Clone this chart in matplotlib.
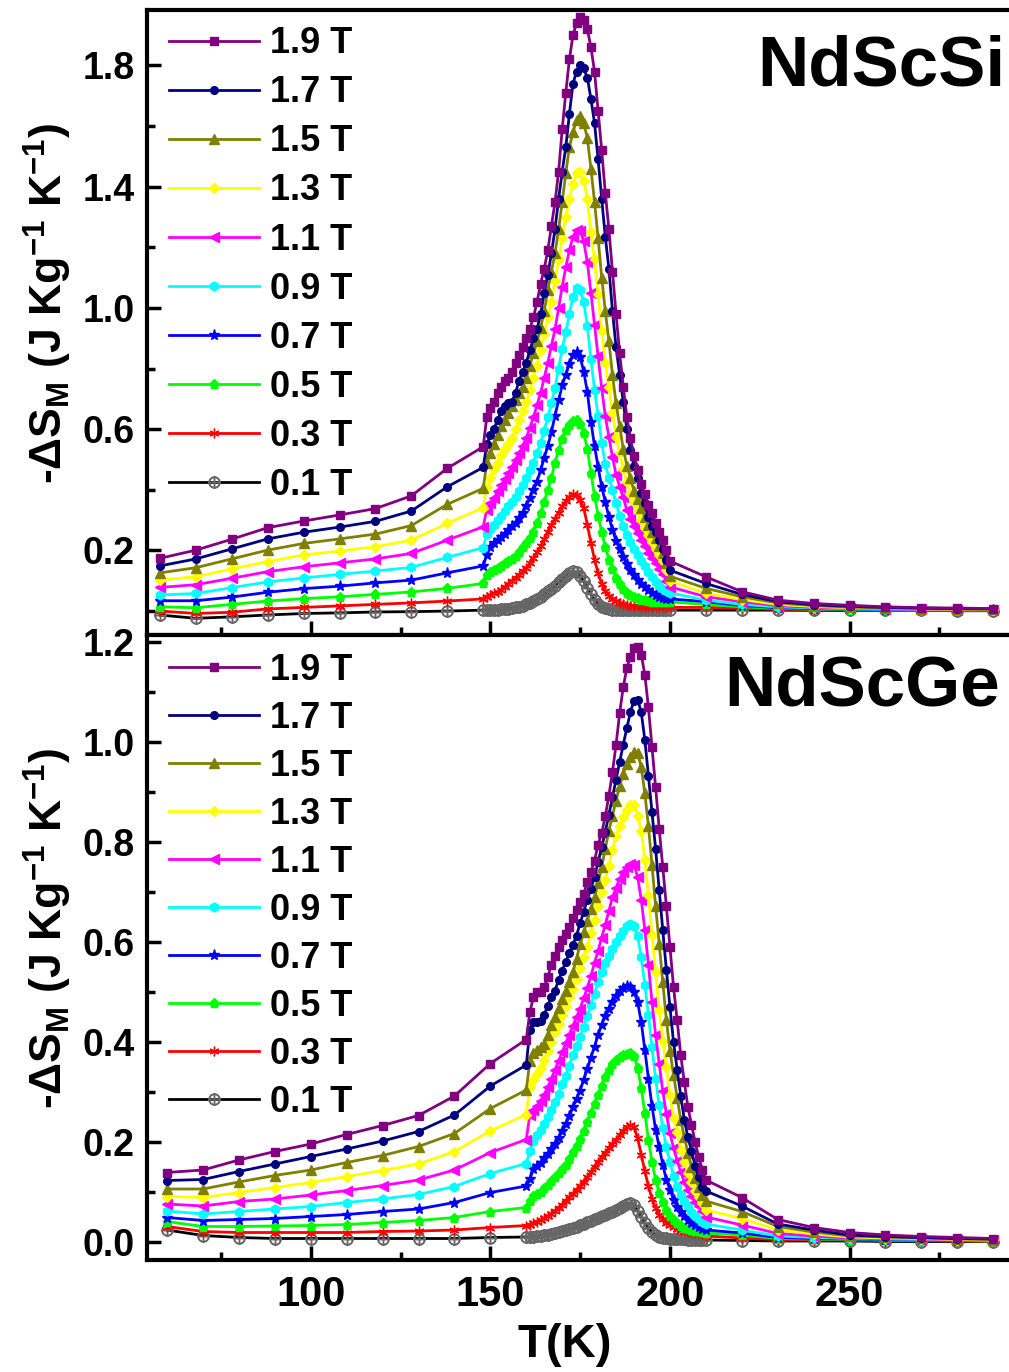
import matplotlib
matplotlib.use("Agg")
import matplotlib.pyplot as plt
from matplotlib.ticker import FixedLocator, FormatStrFormatter, MultipleLocator

plt.rcParams["font.family"] = ["Liberation Sans", "DejaVu Sans"]
plt.rcParams["font.weight"] = "bold"
plt.rcParams["mathtext.fontset"] = "custom"
plt.rcParams["mathtext.rm"] = "Liberation Sans:bold"
plt.rcParams["mathtext.bf"] = "Liberation Sans:bold"
plt.rcParams["mathtext.it"] = "Liberation Sans:bold"
plt.rcParams["mathtext.default"] = "bf"

# temperature grids: 10 K steps, 1 K steps around the transition, 10 K steps above
t_si = list(range(58, 149, 10)) + list(range(149, 201)) + list(range(210, 291, 10))
t_ge = list(range(60, 161, 10)) + list(range(161, 210)) + list(range(210, 291, 10))

fields = ["1.9 T", "1.7 T", "1.5 T", "1.3 T", "1.1 T", "0.9 T", "0.7 T", "0.5 T", "0.3 T", "0.1 T"]

# ---- NdScSi, -dS_M ----
si_19 = [0.174, 0.201, 0.237, 0.275, 0.297, 0.317, 0.338, 0.380, 0.471, 0.542,
         0.64, 0.67, 0.69, 0.72, 0.74, 0.76, 0.77, 0.79, 0.82, 0.845,
         0.87, 0.90, 0.93, 0.97, 1.02, 1.08, 1.13, 1.19, 1.27, 1.35,
         1.45, 1.59, 1.71, 1.82, 1.90, 1.94, 1.96, 1.95, 1.92, 1.86,
         1.78, 1.65, 1.52, 1.38, 1.26, 1.12, 0.98, 0.85, 0.74, 0.64,
         0.57, 0.51, 0.465, 0.42, 0.385, 0.35, 0.325, 0.29, 0.26, 0.235,
         0.20, 0.165,
         0.113, 0.064, 0.036, 0.025, 0.019, 0.014, 0.011, 0.010, 0.008]
si_17 = [0.149, 0.172, 0.205, 0.238, 0.260, 0.277, 0.296, 0.330, 0.410, 0.474,
         0.55, 0.58, 0.60, 0.63, 0.66, 0.675, 0.685, 0.69, 0.72, 0.76,
         0.79, 0.82, 0.86, 0.90, 0.93, 0.98, 1.05, 1.11, 1.18, 1.26,
         1.36, 1.45, 1.53, 1.64, 1.74, 1.78, 1.80, 1.79, 1.76, 1.69,
         1.61, 1.49, 1.36, 1.235, 1.13, 0.99, 0.87, 0.78, 0.69, 0.60,
         0.53, 0.48, 0.44, 0.39, 0.355, 0.31, 0.28, 0.26, 0.235, 0.205,
         0.17, 0.135,
         0.091, 0.055, 0.031, 0.021, 0.016, 0.012, 0.010, 0.008, 0.007]
si_15 = [0.126, 0.143, 0.172, 0.201, 0.223, 0.238, 0.254, 0.282, 0.352, 0.405,
         0.488, 0.52, 0.55, 0.58, 0.61, 0.63, 0.655, 0.675, 0.695, 0.72,
         0.74, 0.77, 0.81, 0.85, 0.89, 0.935, 0.99, 1.06, 1.12, 1.18,
         1.26, 1.35, 1.445, 1.53, 1.58, 1.62, 1.633, 1.61, 1.56, 1.46,
         1.35, 1.23, 1.10, 0.99, 0.89, 0.78, 0.685, 0.61, 0.535, 0.48,
         0.44, 0.395, 0.37, 0.34, 0.31, 0.285, 0.262, 0.24, 0.215, 0.19,
         0.16, 0.115,
         0.075, 0.047, 0.027, 0.018, 0.013, 0.010, 0.008, 0.007, 0.006]
si_13 = [0.102, 0.113, 0.139, 0.163, 0.185, 0.198, 0.212, 0.234, 0.289, 0.341,
         0.41, 0.44, 0.468, 0.49, 0.515, 0.535, 0.55, 0.57, 0.60, 0.63,
         0.66, 0.69, 0.73, 0.77, 0.81, 0.86, 0.915, 0.97, 1.02, 1.09,
         1.16, 1.23, 1.30, 1.36, 1.41, 1.445, 1.45, 1.42, 1.36, 1.25,
         1.16, 1.045, 0.925, 0.82, 0.74, 0.655, 0.575, 0.52, 0.47, 0.425,
         0.386, 0.36, 0.33, 0.30, 0.273, 0.25, 0.227, 0.205, 0.185, 0.165,
         0.135, 0.10,
         0.058, 0.038, 0.022, 0.015, 0.011, 0.009, 0.007, 0.006, 0.005]
si_11 = [0.078, 0.087, 0.108, 0.130, 0.146, 0.159, 0.172, 0.190, 0.234, 0.278,
         0.335, 0.355, 0.373, 0.395, 0.415, 0.435, 0.455, 0.475, 0.50, 0.52,
         0.545, 0.572, 0.605, 0.64, 0.68, 0.72, 0.77, 0.82, 0.875, 0.93,
         1.00, 1.07, 1.135, 1.19, 1.235, 1.257, 1.255, 1.22, 1.15, 1.05,
         0.945, 0.84, 0.735, 0.643, 0.575, 0.508, 0.45, 0.41, 0.375, 0.333,
         0.305, 0.279, 0.256, 0.234, 0.213, 0.193, 0.175, 0.158, 0.14, 0.122,
         0.10, 0.08,
         0.047, 0.031, 0.018, 0.012, 0.009, 0.007, 0.006, 0.005, 0.004]
si_09 = [0.053, 0.058, 0.077, 0.096, 0.109, 0.121, 0.132, 0.144, 0.177, 0.209,
         0.255, 0.272, 0.285, 0.30, 0.315, 0.33, 0.345, 0.36, 0.377, 0.395,
         0.415, 0.44, 0.465, 0.49, 0.52, 0.555, 0.595, 0.64, 0.685, 0.735,
         0.80, 0.865, 0.92, 0.98, 1.035, 1.067, 1.06, 1.02, 0.94, 0.83,
         0.73, 0.645, 0.555, 0.485, 0.44, 0.40, 0.355, 0.315, 0.28, 0.25,
         0.228, 0.205, 0.185, 0.165, 0.148, 0.13, 0.112, 0.097, 0.082, 0.074,
         0.067, 0.06,
         0.036, 0.022, 0.014, 0.010, 0.007, 0.006, 0.005, 0.004, 0.004]
si_07 = [0.034, 0.034, 0.046, 0.062, 0.074, 0.082, 0.093, 0.102, 0.126, 0.149,
         0.185, 0.21, 0.225, 0.235, 0.243, 0.255, 0.267, 0.279, 0.292, 0.307,
         0.323, 0.348, 0.373, 0.40, 0.427, 0.465, 0.505, 0.545, 0.59, 0.645,
         0.695, 0.745, 0.78, 0.815, 0.845, 0.855, 0.838, 0.79, 0.723, 0.625,
         0.545, 0.475, 0.41, 0.36, 0.31, 0.268, 0.232, 0.205, 0.178, 0.155,
         0.135, 0.118, 0.103, 0.09, 0.078, 0.068, 0.06, 0.052, 0.045, 0.042,
         0.04, 0.04,
         0.031, 0.018, 0.011, 0.008, 0.006, 0.005, 0.004, 0.003, 0.003]
si_05 = [0.014, 0.011, 0.022, 0.033, 0.041, 0.047, 0.055, 0.063, 0.075, 0.091,
         0.12, 0.13, 0.137, 0.143, 0.15, 0.157, 0.164, 0.172, 0.182, 0.195,
         0.21, 0.225, 0.242, 0.262, 0.29, 0.322, 0.36, 0.40, 0.44, 0.49,
         0.53, 0.568, 0.598, 0.615, 0.626, 0.629, 0.616, 0.588, 0.535, 0.455,
         0.38, 0.315, 0.26, 0.211, 0.17, 0.138, 0.108, 0.088, 0.072, 0.06,
         0.052, 0.046, 0.042, 0.038, 0.035, 0.033, 0.031, 0.03, 0.03, 0.03,
         0.03, 0.03,
         0.022, 0.014, 0.009, 0.006, 0.005, 0.004, 0.003, 0.003, 0.002]
si_03 = [0.000, -0.008, -0.004, 0.007, 0.012, 0.017, 0.022, 0.027, 0.033, 0.040,
         0.048, 0.053, 0.058, 0.063, 0.07, 0.079, 0.089, 0.099, 0.11, 0.12,
         0.131, 0.143, 0.157, 0.175, 0.195, 0.213, 0.237, 0.262, 0.285, 0.305,
         0.325, 0.345, 0.362, 0.377, 0.385, 0.384, 0.366, 0.34, 0.285, 0.225,
         0.17, 0.125, 0.09, 0.065, 0.05, 0.04, 0.032, 0.027, 0.023, 0.02,
         0.018, 0.017, 0.016, 0.015, 0.015, 0.014, 0.014, 0.013, 0.013, 0.013,
         0.012, 0.012,
         0.012, 0.009, 0.006, 0.005, 0.004, 0.003, 0.003, 0.002, 0.002]
si_01 = [-0.013, -0.024, -0.019, -0.013, -0.008, -0.006, -0.003, -0.002, 0.000, 0.003,
         0.004, 0.004, 0.005, 0.005, 0.006, 0.007, 0.008, 0.01, 0.012, 0.015,
         0.018, 0.022, 0.027, 0.033, 0.04, 0.048, 0.056, 0.065, 0.074, 0.084,
         0.095, 0.106, 0.117, 0.126, 0.131, 0.128, 0.117, 0.098, 0.077, 0.055,
         0.037, 0.024, 0.015, 0.01, 0.007, 0.005, 0.004, 0.004, 0.004, 0.004,
         0.004, 0.004, 0.004, 0.004, 0.003, 0.003, 0.003, 0.003, 0.003, 0.003,
         0.003, 0.003,
         0.003, 0.003, 0.003, 0.002, 0.002, 0.002, 0.002, 0.001, 0.001]

# ---- NdScGe, -dS_M ----
ge_19 = [0.139, 0.144, 0.164, 0.181, 0.196, 0.215, 0.233, 0.253, 0.292, 0.357, 0.405,
         0.46, 0.49, 0.50, 0.50, 0.51, 0.53, 0.555, 0.573, 0.59, 0.605,
         0.617, 0.631, 0.648, 0.664, 0.68, 0.696, 0.72, 0.74, 0.763, 0.795,
         0.818, 0.852, 0.893, 0.94, 0.995, 1.058, 1.11, 1.148, 1.171, 1.188,
         1.19, 1.175, 1.135, 1.07, 0.99, 0.91, 0.827, 0.75, 0.672, 0.59,
         0.51, 0.444, 0.374, 0.32, 0.27, 0.235, 0.20, 0.17, 0.145,
         0.124, 0.089, 0.045, 0.029, 0.019, 0.014, 0.011, 0.009, 0.007]
ge_17 = [0.123, 0.125, 0.141, 0.156, 0.171, 0.186, 0.202, 0.221, 0.254, 0.312, 0.354,
         0.425, 0.44, 0.44, 0.442, 0.455, 0.473, 0.49, 0.503, 0.524, 0.543,
         0.56, 0.578, 0.595, 0.613, 0.638, 0.661, 0.685, 0.707, 0.731, 0.76,
         0.79, 0.82, 0.855, 0.89, 0.925, 0.96, 0.995, 1.028, 1.06, 1.083,
         1.085, 1.06, 1.005, 0.933, 0.86, 0.787, 0.705, 0.624, 0.545, 0.47,
         0.40, 0.345, 0.293, 0.245, 0.21, 0.182, 0.153, 0.13, 0.11,
         0.102, 0.072, 0.036, 0.024, 0.014, 0.011, 0.009, 0.007, 0.006]
ge_15 = [0.106, 0.106, 0.120, 0.133, 0.144, 0.159, 0.173, 0.191, 0.217, 0.267, 0.304,
         0.362, 0.379, 0.384, 0.39, 0.397, 0.415, 0.434, 0.45, 0.468, 0.486,
         0.503, 0.52, 0.54, 0.567, 0.596, 0.62, 0.643, 0.666, 0.69, 0.718,
         0.75, 0.787, 0.822, 0.853, 0.883, 0.912, 0.937, 0.957, 0.971, 0.98,
         0.978, 0.95, 0.898, 0.832, 0.755, 0.672, 0.597, 0.52, 0.444, 0.383,
         0.334, 0.289, 0.245, 0.21, 0.178, 0.151, 0.128, 0.11, 0.095,
         0.082, 0.061, 0.031, 0.020, 0.012, 0.010, 0.008, 0.006, 0.005]
ge_13 = [0.091, 0.089, 0.099, 0.109, 0.119, 0.131, 0.143, 0.156, 0.181, 0.222, 0.255,
         0.31, 0.324, 0.336, 0.348, 0.365, 0.383, 0.401, 0.42, 0.436, 0.454,
         0.472, 0.49, 0.507, 0.527, 0.548, 0.57, 0.591, 0.618, 0.645, 0.673,
         0.70, 0.725, 0.753, 0.785, 0.812, 0.833, 0.85, 0.864, 0.875, 0.874,
         0.853, 0.823, 0.765, 0.695, 0.615, 0.54, 0.465, 0.403, 0.35, 0.295,
         0.248, 0.22, 0.185, 0.16, 0.138, 0.12, 0.103, 0.09, 0.078,
         0.064, 0.047, 0.024, 0.016, 0.010, 0.008, 0.007, 0.005, 0.004]
ge_11 = [0.076, 0.072, 0.081, 0.086, 0.094, 0.103, 0.113, 0.124, 0.144, 0.179, 0.205,
         0.255, 0.264, 0.273, 0.282, 0.295, 0.31, 0.327, 0.345, 0.362, 0.38,
         0.398, 0.415, 0.433, 0.45, 0.467, 0.488, 0.509, 0.532, 0.558, 0.583,
         0.609, 0.635, 0.662, 0.69, 0.708, 0.727, 0.74, 0.75, 0.757, 0.755,
         0.73, 0.685, 0.625, 0.555, 0.48, 0.415, 0.357, 0.302, 0.256, 0.218,
         0.188, 0.163, 0.14, 0.12, 0.104, 0.092, 0.081, 0.072, 0.062,
         0.050, 0.034, 0.017, 0.012, 0.008, 0.007, 0.006, 0.004, 0.004]
ge_09 = [0.062, 0.056, 0.061, 0.066, 0.071, 0.079, 0.086, 0.095, 0.111, 0.137, 0.157,
         0.183, 0.203, 0.214, 0.225, 0.237, 0.25, 0.264, 0.28, 0.297, 0.316,
         0.333, 0.353, 0.375, 0.393, 0.41, 0.431, 0.452, 0.475, 0.497, 0.52,
         0.541, 0.558, 0.572, 0.587, 0.60, 0.613, 0.623, 0.632, 0.636, 0.632,
         0.612, 0.57, 0.515, 0.455, 0.39, 0.327, 0.274, 0.228, 0.19, 0.16,
         0.133, 0.11, 0.095, 0.083, 0.072, 0.061, 0.053, 0.047, 0.041,
         0.036, 0.024, 0.012, 0.009, 0.007, 0.006, 0.005, 0.004, 0.003]
ge_07 = [0.049, 0.043, 0.045, 0.047, 0.051, 0.055, 0.061, 0.066, 0.079, 0.099, 0.112,
         0.126, 0.146, 0.152, 0.159, 0.168, 0.177, 0.186, 0.197, 0.209, 0.223,
         0.236, 0.252, 0.27, 0.287, 0.303, 0.325, 0.346, 0.369, 0.391, 0.414,
         0.435, 0.452, 0.467, 0.481, 0.492, 0.503, 0.509, 0.513, 0.511, 0.50,
         0.48, 0.44, 0.385, 0.327, 0.272, 0.225, 0.19, 0.155, 0.124, 0.105,
         0.085, 0.071, 0.06, 0.052, 0.045, 0.039, 0.034, 0.03, 0.026,
         0.024, 0.018, 0.009, 0.007, 0.006, 0.005, 0.004, 0.003, 0.003]
ge_05 = [0.041, 0.031, 0.031, 0.032, 0.033, 0.035, 0.039, 0.043, 0.049, 0.061, 0.069,
         0.082, 0.093, 0.097, 0.101, 0.108, 0.115, 0.122, 0.13, 0.138, 0.147,
         0.155, 0.167, 0.18, 0.193, 0.206, 0.222, 0.24, 0.258, 0.277, 0.295,
         0.313, 0.33, 0.345, 0.356, 0.364, 0.37, 0.374, 0.377, 0.378, 0.372,
         0.348, 0.308, 0.258, 0.205, 0.16, 0.125, 0.098, 0.08, 0.064, 0.053,
         0.045, 0.038, 0.032, 0.029, 0.027, 0.025, 0.023, 0.022, 0.021,
         0.018, 0.014, 0.007, 0.006, 0.005, 0.004, 0.003, 0.003, 0.002]
ge_03 = [0.031, 0.021, 0.019, 0.019, 0.019, 0.019, 0.021, 0.022, 0.024, 0.029, 0.033,
         0.035, 0.038, 0.041, 0.044, 0.048, 0.052, 0.057, 0.062, 0.068, 0.075,
         0.083, 0.09, 0.097, 0.105, 0.112, 0.121, 0.13, 0.14, 0.151, 0.161,
         0.17, 0.179, 0.188, 0.197, 0.205, 0.214, 0.223, 0.23, 0.234, 0.23,
         0.208, 0.175, 0.142, 0.112, 0.087, 0.068, 0.055, 0.046, 0.039, 0.034,
         0.03, 0.027, 0.024, 0.022, 0.021, 0.02, 0.019, 0.018, 0.017,
         0.012, 0.008, 0.005, 0.004, 0.004, 0.003, 0.003, 0.002, 0.002]
ge_01 = [0.024, 0.013, 0.009, 0.007, 0.007, 0.007, 0.007, 0.007, 0.007, 0.009, 0.010,
         0.01, 0.011, 0.012, 0.013, 0.014, 0.015, 0.017, 0.018, 0.02, 0.022,
         0.024, 0.026, 0.028, 0.031, 0.034, 0.037, 0.04, 0.043, 0.046, 0.049,
         0.052, 0.055, 0.058, 0.061, 0.065, 0.069, 0.073, 0.076, 0.078, 0.074,
         0.063, 0.05, 0.038, 0.028, 0.02, 0.015, 0.011, 0.009, 0.008, 0.007,
         0.007, 0.006, 0.006, 0.006, 0.005, 0.005, 0.005, 0.005, 0.005,
         0.004, 0.003, 0.002, 0.002, 0.002, 0.001, 0.001, 0.001, 0.001]

si_curves = [si_19, si_17, si_15, si_13, si_11, si_09, si_07, si_05, si_03, si_01]
ge_curves = [ge_19, ge_17, ge_15, ge_13, ge_11, ge_09, ge_07, ge_05, ge_03, ge_01]

# Origin-like colours and symbols, same order as fields
COLORS = ["#800080", "#000080", "#808000", "#FFFF00", "#FF00FF",
          "#00FFFF", "#0000FF", "#00FF00", "#FF0000", "#000000"]
MARKERS = ["s", "o", "^", "D", "<", "h", "*", "p", (6, 2, 0), r"$\oplus$"]
MSIZES = [5.5, 5.5, 6.5, 5, 6.5, 6.5, 8, 6.5, 7, 7]

W_PX, H_PX = 1009, 1372
LEFT = 147 / W_PX
WIDTH = 1 - LEFT
HEIGHT = 625 / H_PX


def style_axes(ax, show_xlabels):
    for side in ("left", "top", "bottom"):
        ax.spines[side].set_linewidth(3)
    ax.spines["right"].set_visible(False)
    ax.set_xlim(54.4, 294.4)
    ax.xaxis.set_major_locator(MultipleLocator(50))
    ax.xaxis.set_minor_locator(MultipleLocator(25))
    ax.tick_params(which="both", direction="in", width=2.5, top=False, right=False)
    ax.tick_params(which="major", length=10)
    ax.tick_params(which="minor", length=6)
    ax.tick_params(axis="y", labelsize=27, pad=9)
    ax.tick_params(axis="x", labelsize=30, pad=11, labelbottom=show_xlabels)
    ax.yaxis.set_major_formatter(FormatStrFormatter("%.1f"))


def draw_panel(ax, temps, curves, name, name_xy, legend_y, spacing):
    handles = []
    # low field first so that the high field curves sit on top
    for i in reversed(range(len(curves))):
        kw = dict(color=COLORS[i], lw=2, marker=MARKERS[i], ms=MSIZES[i], zorder=3 + (10 - i))
        if i == 9:
            kw.update(mfc="#666666", mec="#666666", ms=8)
        elif i == 8:
            kw.update(mec=COLORS[i], mew=1.0)
        (ln,) = ax.plot(temps, curves[i], label=fields[i], **kw)
        handles.append(ln)
    handles = handles[::-1]
    ax.legend(handles=handles, loc="upper left", bbox_to_anchor=(0.0255, legend_y),
              frameon=False, fontsize=26, handlelength=2.5, handletextpad=0.3,
              labelspacing=spacing, borderpad=0, borderaxespad=0, numpoints=1)
    ax.text(name_xy[0], name_xy[1], name, transform=ax.transAxes, ha="right",
            va="baseline", fontsize=51, weight="bold")


fig = plt.figure(figsize=(W_PX / 100, H_PX / 100), dpi=100)
ax_si = fig.add_axes([LEFT, 1 - 635 / H_PX, WIDTH, HEIGHT])
ax_ge = fig.add_axes([LEFT, 1 - 1260 / H_PX, WIDTH, HEIGHT])

style_axes(ax_si, False)
style_axes(ax_ge, True)

ax_si.set_ylim(-0.079, 1.983)
ax_si.yaxis.set_major_locator(FixedLocator([0.2, 0.6, 1.0, 1.4, 1.8]))
ax_si.yaxis.set_minor_locator(FixedLocator([0.0, 0.4, 0.8, 1.2, 1.6]))

ax_ge.set_ylim(-0.036, 1.214)
ax_ge.yaxis.set_major_locator(MultipleLocator(0.2))
ax_ge.yaxis.set_minor_locator(MultipleLocator(0.1))

draw_panel(ax_si, t_si, si_curves, "NdScSi", (0.9954, 0.88), 0.974, 0.39)
draw_panel(ax_ge, t_ge, ge_curves, "NdScGe", (0.9896, 0.888), 0.971, 0.36)

ylab = "-ΔS$_{M}$ (J Kg$^{-1}$ K$^{-1}$)"
fig.text(48 / W_PX, 1 - 303 / H_PX, ylab, rotation=90, ha="center", va="center",
         fontsize=32, weight="bold")
fig.text(48 / W_PX, 1 - 928 / H_PX, ylab, rotation=90, ha="center", va="center",
         fontsize=32, weight="bold")
fig.text(565 / W_PX, 1 - 1357 / H_PX, "T(K)", ha="center", va="baseline",
         fontsize=34, weight="bold")

fig.savefig("out.png", dpi=100)
